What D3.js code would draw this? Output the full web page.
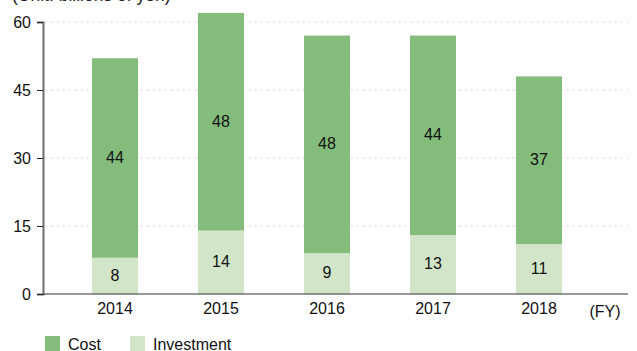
<!DOCTYPE html>
<html>
<head>
<meta charset="utf-8">
<script src="https://cdn.jsdelivr.net/npm/d3@7"></script>
<style>
body { margin: 0; background: #fff; }
text { font-family: "Liberation Sans", Arial, sans-serif; }
</style>
</head>
<body>
<script>
let width = 637
let height = 351

let years = ["2014", "2015", "2016", "2017", "2018"]
let cost = [44, 48, 48, 44, 37]
let investment = [8, 14, 9, 13, 11]
let yTicks = [0, 15, 30, 45, 60]

let darkGreen = "#84bc7c"
let lightGreen = "#d2e5c9"

let svg = d3.select("body")
.append("svg")
.attr("width", width)
.attr("height", height)

let x = d3.scaleBand()
.domain(years)
.range([62, 592])
.paddingInner(0.566)
.paddingOuter(0.283)

let y = d3.scaleLinear()
.domain([0, 60])
.range([294, 22])

// unit label (cut off at the top, as in the original)
svg.append("text")
.attr("x", 12)
.attr("y", 0.5)
.style("font-size", "17.5px")
.attr("fill", "#222")
.text("(Unit: billions of yen)")

// dotted grid
svg.selectAll(".grid")
.data(yTicks.filter(d => d > 0))
.enter()
.append("line")
.attr("x1", 45)
.attr("x2", 628)
.attr("y1", d => y(d))
.attr("y2", d => y(d))
.attr("stroke", "#c4c4c4")
.attr("stroke-width", 1)
.attr("stroke-dasharray", "1.5,4.5")

let rows = years.map((yr, i) => ({year: yr, cost: cost[i], investment: investment[i]}))

// investment (bottom)
svg.selectAll(".inv")
.data(rows)
.enter()
.append("rect")
.attr("x", d => x(d.year))
.attr("width", x.bandwidth())
.attr("y", d => y(d.investment))
.attr("height", d => y(0) - y(d.investment))
.style("fill", lightGreen)

// cost (stacked on top)
svg.selectAll(".cost")
.data(rows)
.enter()
.append("rect")
.attr("x", d => x(d.year))
.attr("width", x.bandwidth())
.attr("y", d => y(d.investment + d.cost))
.attr("height", d => y(d.investment) - y(d.investment + d.cost))
.style("fill", darkGreen)

// value labels
svg.selectAll(".invLabel")
.data(rows)
.enter()
.append("text")
.attr("x", d => x(d.year) + x.bandwidth() / 2)
.attr("y", d => y(d.investment / 2))
.attr("dy", "0.3em")
.attr("text-anchor", "middle")
.style("font-size", "16px")
.attr("fill", "#111")
.text(d => d.investment)

svg.selectAll(".costLabel")
.data(rows)
.enter()
.append("text")
.attr("x", d => x(d.year) + x.bandwidth() / 2)
.attr("y", d => y(d.investment + d.cost / 2))
.attr("dy", "0.3em")
.attr("text-anchor", "middle")
.style("font-size", "16px")
.attr("fill", "#111")
.text(d => d.cost)

// y axis
let yAxis = d3.axisLeft(y)
.tickValues(yTicks)
.tickSize(6)
.tickPadding(6)

let gy = svg.append("g")
.attr("transform", "translate(43,0)")
.call(yAxis)
gy.select(".domain").attr("stroke", "#6e6e6e").attr("stroke-width", 2)
gy.selectAll(".tick line").attr("stroke", "#222")
gy.selectAll(".tick text").style("font-size", "16px").attr("fill", "#111")

// x axis baseline
let xAxis = d3.axisBottom(x)
.tickSize(0)
.tickPadding(9)

let gx = svg.append("g")
.attr("transform", "translate(0,294)")
.call(xAxis)
gx.select(".domain").attr("d", "M43,0H628").attr("stroke", "#333")
gx.selectAll(".tick text").style("font-size", "16px").attr("fill", "#111")

svg.append("text")
.attr("x", 605)
.attr("y", 317)
.attr("text-anchor", "middle")
.style("font-size", "16px")
.attr("fill", "#111")
.text("(FY)")

// legend
let legendItems = [
  {name: "Cost", color: darkGreen, x: 45},
  {name: "Investment", color: lightGreen, x: 130}
]

let lg = svg.selectAll(".legend")
.data(legendItems)
.enter()
.append("g")
.attr("transform", d => "translate(" + d.x + ",336)")

lg.append("rect")
.attr("width", 15)
.attr("height", 15)
.style("fill", d => d.color)

lg.append("text")
.attr("x", 23)
.attr("y", 13.5)
.style("font-size", "16px")
.attr("fill", "#111")
.text(d => d.name)
</script>
</body>
</html>
